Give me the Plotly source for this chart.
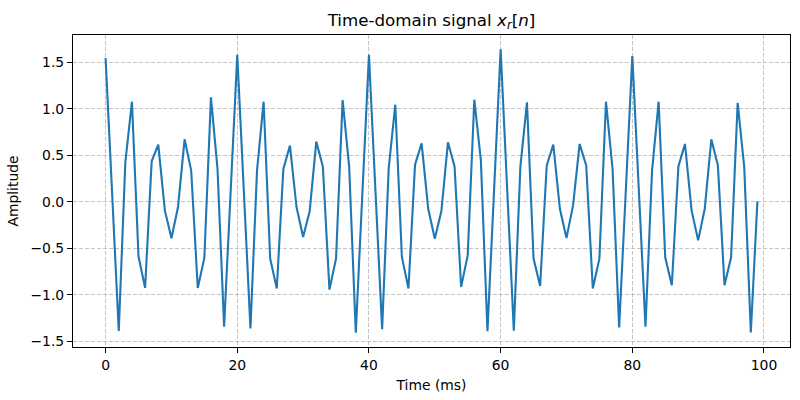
import plotly.graph_objects as go

# Sample index n (ms)
time_ms = list(range(100))

# Signal values
amplitude = [
    1.545, 0.06, -1.390, 0.425, 1.076, -0.586, -0.926, 0.436, 0.615, -0.093,
    -0.393, -0.057, 0.672, 0.336, -0.926, -0.604, 1.123, 0.354, -1.344, 0.12,
    1.580, 0.11, -1.362, 0.336, 1.076, -0.611, -0.933, 0.354, 0.604, -0.057,
    -0.379, -0.100, 0.647, 0.379, -0.944, -0.611, 1.094, 0.372, -1.409, 0.09,
    1.580, 0.10, -1.369, 0.361, 1.044, -0.593, -0.933, 0.400, 0.629, -0.075,
    -0.397, -0.100, 0.640, 0.379, -0.915, -0.576, 1.098, 0.443, -1.391, 0.12,
    1.641, 0.13, -1.387, 0.379, 1.069, -0.611, -0.905, 0.390, 0.615, -0.075,
    -0.390, -0.039, 0.622, 0.390, -0.933, -0.611, 1.076, 0.354, -1.351, 0.10,
    1.566, 0.11, -1.344, 0.336, 1.076, -0.600, -0.897, 0.379, 0.622, -0.093,
    -0.415, -0.075, 0.672, 0.390, -0.897, -0.600, 1.065, 0.372, -1.405, 0.004,
]

x_ticks = [0, 20, 40, 60, 80, 100]
y_ticks = [-1.5, -1.0, -0.5, 0.0, 0.5, 1.0, 1.5]

fig = go.Figure()
fig.add_trace(go.Scatter(
    x=time_ms, y=amplitude, mode="lines",
    line=dict(color="#1f77b4", width=2.1),
    showlegend=False,
))

font = "DejaVu Sans, sans-serif"
grid_color = "rgba(176,176,176,0.75)"

fig.update_layout(
    width=800, height=400,
    margin=dict(l=73, r=10, t=35, b=53),
    paper_bgcolor="white", plot_bgcolor="white",
    font=dict(family=font, size=13.9, color="black"),
    title=dict(
        text="Time-domain signal <i>x<sub>r</sub></i>[<i>n</i>]",
        x=(73 + 431.5 - 73) / 800, xanchor="center",
        y=1 - 20 / 400, yanchor="middle",
        font=dict(family=font, size=16.7, color="black"),
    ),
)

fig.update_xaxes(
    range=[-4.95, 103.95],
    tickvals=x_ticks,
    ticks="outside", ticklen=5, tickwidth=1.1, tickcolor="black",
    showline=True, linecolor="black", linewidth=1.1, mirror=True,
    showgrid=True, gridcolor=grid_color, gridwidth=1.1, griddash="4px,2px",
    zeroline=False,
    title=dict(text="Time (ms)", standoff=8, font=dict(family=font, size=13.9)),
)
fig.update_yaxes(
    range=[-1.5615, 1.7935],
    tickvals=y_ticks, tickformat=".1f",
    ticks="outside", ticklen=5, tickwidth=1.1, tickcolor="black",
    showline=True, linecolor="black", linewidth=1.1, mirror=True,
    showgrid=True, gridcolor=grid_color, gridwidth=1.1, griddash="4px,2px",
    zeroline=False,
    title=dict(text="Amplitude", standoff=8, font=dict(family=font, size=13.9)),
)

fig.write_html("out.html")
